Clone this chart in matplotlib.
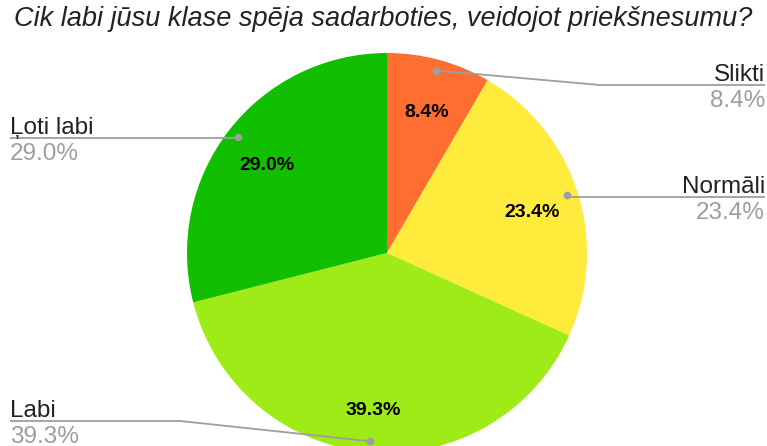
import numpy as np
import matplotlib.pyplot as plt

labels = ['Slikti', 'Normāli', 'Labi', 'Ļoti labi']
values = [8.4, 23.4, 39.3, 29.0]
colors = ['#FF6D31', '#FFEB3B', '#9EEB17', '#12BE00']
title = 'Cik labi jūsu klase spēja sadarboties, veidojot priekšnesumu?'

plt.rcParams['font.family'] = ['Liberation Sans', 'DejaVu Sans']

W, H = 767, 446
fig = plt.figure(figsize=(W / 100, H / 100), dpi=100)
ax = fig.add_axes([0, 0, 1, 1])
ax.set_xlim(0, W)
ax.set_ylim(0, H)
ax.set_aspect('equal')
ax.axis('off')

cx, cy, r = 387, 193, 200
wedges, texts, autotexts = ax.pie(
    values, colors=colors, startangle=90, counterclock=False,
    center=(cx, cy), radius=r, autopct='%1.1f%%', pctdistance=0.76,
    textprops=dict(fontsize=14, fontweight='bold', color='black'),
    wedgeprops=dict(linewidth=0))
ax.set_xlim(0, W)
ax.set_ylim(0, H)
# nudge the inner percentages down a little
for t in autotexts:
    x, y = t.get_position()
    t.set_position((x, y - 6))

fig.text(0.5, 1 - 19 / H, title, ha='center', va='center',
         fontsize=19.5, style='italic', color='#222222')

# leader lines: (line y, knee x, side)
leaders = {
    'Slikti': (361, 600, 'right'),
    'Normāli': (249, None, 'right'),
    'Labi': (25, 180, 'left'),
    'Ļoti labi': (308, None, 'left'),
}
for w, lab, val in zip(wedges, labels, values):
    mid = np.deg2rad((w.theta1 + w.theta2) / 2)
    dx, dy = cx + 0.945 * r * np.cos(mid), cy + 0.945 * r * np.sin(mid)
    ly, knee, side = leaders[lab]
    end = 765 if side == 'right' else 10
    if knee is None:
        xs, ys = [dx, end], [ly, ly]
    else:
        xs, ys = [dx, knee, end], [dy, ly, ly]
    ax.plot(xs, ys, color='#9E9E9E', lw=1.3, solid_capstyle='butt')
    ax.plot(dx, dy, 'o', color='#9E9E9E', ms=4.5)
    ax.text(end, ly + 4, lab, ha=side, va='baseline', fontsize=17.5, color='#222222')
    ax.text(end, ly - 5, f'{val:.1f}%', ha=side, va='top', fontsize=17.5, color='#9E9E9E')

plt.savefig('out.png', dpi=100)
